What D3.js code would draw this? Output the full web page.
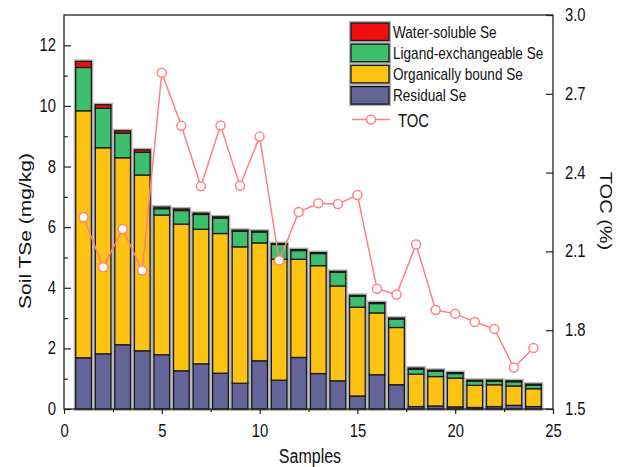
<!DOCTYPE html>
<html>
<head>
<meta charset="utf-8">
<script src="https://cdn.jsdelivr.net/npm/d3@7/dist/d3.min.js"></script>
<style>
  body { margin: 0; background: #fff; }
  text { font-family: "Liberation Sans", Arial, sans-serif; fill: #111; }
</style>
</head>
<body>
<div id="chart"></div>
<script>
// data
const samples = d3.range(1, 25);
const residual = [1.69,1.82,2.12,1.92,1.79,1.26,1.49,1.18,0.85,1.59,0.95,1.70,1.17,0.93,0.43,1.13,0.80,0.08,0.10,0.07,0.05,0.08,0.12,0.08];
const organic  = [8.15,6.80,6.17,5.80,4.61,4.84,4.44,4.61,4.50,3.89,3.99,3.24,3.56,3.13,2.93,2.04,1.89,1.07,0.97,0.95,0.73,0.72,0.64,0.59];
const ligand   = [1.43,1.30,0.81,0.75,0.21,0.45,0.49,0.51,0.52,0.36,0.49,0.29,0.40,0.45,0.36,0.31,0.28,0.16,0.18,0.15,0.14,0.12,0.14,0.12];
const water    = [0.20,0.12,0.08,0.08,0.05,0.05,0.04,0.04,0.03,0.03,0.03,0.03,0.03,0.03,0.03,0.03,0.03,0.04,0.03,0.03,0.03,0.03,0.03,0.03];
const toc      = [2.23,2.04,2.185,2.027,2.78,2.578,2.348,2.579,2.35,2.537,2.065,2.25,2.283,2.28,2.315,1.958,1.936,2.126,1.877,1.863,1.831,1.805,1.658,1.732];

const keys = ["residual","organic","ligand","water"];
const labels = {water:"Water-soluble Se", ligand:"Ligand-exchangeable Se", organic:"Organically bound Se", residual:"Residual Se"};
const colors = {water:"#ee1010", ligand:"#3dbf6e", organic:"#fdc312", residual:"#646499"};

const xTicks = [0,5,10,15,20,25];
const xMinor = [2.5,7.5,12.5,17.5,22.5];
const yTicks = [0,2,4,6,8,10,12];
const yMinor = [1,3,5,7,9,11];
const rTicks = [1.5,1.8,2.1,2.4,2.7,3.0];

const rows = samples.map((s, i) => ({sample: s, residual: residual[i], organic: organic[i], ligand: ligand[i], water: water[i], toc: toc[i]}));

const svgWidth = 619, svgHeight = 467;
const margin = {top: 15, left: 64, bottom: 58, right: 66};
const width = svgWidth - margin.left - margin.right;
const height = svgHeight - margin.top - margin.bottom;

const svg = d3.select("#chart").append("svg")
  .attr("width", svgWidth)
  .attr("height", svgHeight)
  .append("g")
  .attr("transform", "translate(" + margin.left + "," + margin.top + ")");

const x = d3.scaleLinear().domain([0, 25]).range([0, width]);
const y = d3.scaleLinear().domain([0, 13]).range([height, 0]);
const yR = d3.scaleLinear().domain([1.5, 3.0]).range([height, 0]);

const stacked = d3.stack().keys(keys)(rows);
const bw = x(0.8) - x(0);

// grey halo round each bar
svg.append("g").selectAll("rect")
  .data(rows)
  .enter().append("rect")
  .attr("x", d => x(d.sample) - bw / 2)
  .attr("y", d => y(d.residual + d.organic + d.ligand + d.water))
  .attr("width", bw)
  .attr("height", d => y(0) - y(d.residual + d.organic + d.ligand + d.water))
  .attr("fill", "none")
  .attr("stroke", "#b4b4b4")
  .attr("stroke-width", 4);

svg.append("g").selectAll("g")
  .data(stacked)
  .enter().append("g")
  .attr("fill", d => colors[d.key])
  .selectAll("rect")
  .data(d => d)
  .enter().append("rect")
  .attr("x", d => x(d.data.sample) - bw / 2)
  .attr("y", d => y(d[1]))
  .attr("width", bw)
  .attr("height", d => y(d[0]) - y(d[1]))
  .attr("stroke", "#1a1a1a")
  .attr("stroke-width", 1.3);

// TOC line
const line = d3.line().x(d => x(d.sample)).y(d => yR(d.toc));
svg.append("path")
  .datum(rows)
  .attr("d", line)
  .attr("fill", "none")
  .attr("stroke", "#ff8080")
  .attr("stroke-width", 1.5);

svg.append("g").selectAll("circle")
  .data(rows)
  .enter().append("circle")
  .attr("cx", d => x(d.sample))
  .attr("cy", d => yR(d.toc))
  .attr("r", 4.5)
  .attr("fill", "#fff")
  .attr("stroke", "#ff8585")
  .attr("stroke-width", 1.5);

// axes
const tickFont = 19, sx = 0.78;

const xAxis = svg.append("g")
  .attr("transform", "translate(0," + height + ")")
  .call(d3.axisBottom(x).tickValues(xTicks).tickSize(5).tickSizeOuter(0).tickFormat(d3.format("d")));
xAxis.selectAll("text")
  .attr("y", 0).attr("dy", 0)
  .attr("transform", "translate(0,28) scale(" + sx + ",1)");
svg.append("g")
  .attr("transform", "translate(0," + height + ")")
  .call(d3.axisBottom(x).tickValues(xMinor).tickSize(3).tickSizeOuter(0).tickFormat(""));

const yAxis = svg.append("g")
  .call(d3.axisLeft(y).tickValues(yTicks).tickSizeInner(-7).tickSizeOuter(0));
yAxis.selectAll("text")
  .attr("x", 0).attr("dy", 0)
  .attr("transform", "translate(-8,5.5) scale(" + sx + ",1)");
svg.append("g")
  .call(d3.axisLeft(y).tickValues(yMinor).tickSizeInner(-4).tickSizeOuter(0).tickFormat(""));

const rAxis = svg.append("g")
  .attr("transform", "translate(" + width + ",0)")
  .call(d3.axisRight(yR).tickValues(rTicks).tickSizeInner(-7).tickSizeOuter(0).tickFormat(d3.format(".1f")));
rAxis.selectAll("text")
  .attr("x", 0).attr("dy", 0)
  .attr("transform", "translate(12,5.5) scale(" + sx + ",1)");

svg.selectAll(".domain").remove();
svg.selectAll(".tick line").attr("stroke", "#222").attr("stroke-width", 1.2);
svg.selectAll(".tick text")
  .style("font-family", "'Liberation Sans', Arial, sans-serif")
  .style("font-size", tickFont + "px")
  .attr("fill", "#111");

svg.append("rect")
  .attr("width", width)
  .attr("height", height)
  .attr("fill", "none")
  .attr("stroke", "#222")
  .attr("stroke-width", 1.3);

// axis titles
svg.append("text")
  .attr("transform", "translate(" + (310 - margin.left) + "," + (463 - margin.top) + ") scale(0.8,1)")
  .attr("text-anchor", "middle")
  .style("font-size", "20px")
  .text("Samples");

svg.append("text")
  .attr("transform", "translate(" + (31 - margin.left) + "," + (231 - margin.top) + ") rotate(-90) scale(1,0.8)")
  .attr("text-anchor", "middle")
  .style("font-size", "21px")
  .text("Soil TSe (mg/kg)");

svg.append("text")
  .attr("transform", "translate(" + (600 - margin.left) + "," + (211 - margin.top) + ") rotate(90) scale(1,0.8)")
  .attr("text-anchor", "middle")
  .style("font-size", "20px")
  .text("TOC (%)");

// legend
const legendKeys = ["water","ligand","organic","residual"];
const legend = svg.append("g")
  .attr("transform", "translate(" + (351 - margin.left) + "," + (23 - margin.top) + ")");

legend.selectAll("rect.halo")
  .data(legendKeys)
  .enter().append("rect")
  .attr("class", "halo")
  .attr("x", 0)
  .attr("y", (d, i) => i * 21.2)
  .attr("width", 38)
  .attr("height", 17.5)
  .attr("fill", "none")
  .attr("stroke", "#b4b4b4")
  .attr("stroke-width", 4);

legend.selectAll("rect.sw")
  .data(legendKeys)
  .enter().append("rect")
  .attr("class", "sw")
  .attr("x", 0)
  .attr("y", (d, i) => i * 21.2)
  .attr("width", 38)
  .attr("height", 17.5)
  .attr("fill", d => colors[d])
  .attr("stroke", "#1a1a1a")
  .attr("stroke-width", 1.3);

legend.selectAll("text.lab")
  .data(legendKeys)
  .enter().append("text")
  .attr("class", "lab")
  .attr("transform", (d, i) => "translate(42," + (i * 21.2 + 14.5) + ") scale(0.85,1)")
  .style("font-size", "16px")
  .text(d => labels[d]);

legend.append("line")
  .attr("x1", 1).attr("x2", 39)
  .attr("y1", 96.5).attr("y2", 96.5)
  .attr("stroke", "#ff8080")
  .attr("stroke-width", 1.5);
legend.append("circle")
  .attr("cx", 20).attr("cy", 96.5).attr("r", 4.5)
  .attr("fill", "#fff")
  .attr("stroke", "#ff8585")
  .attr("stroke-width", 1.5);
legend.append("text")
  .attr("transform", "translate(47,103.5) scale(0.8,1)")
  .style("font-size", "18.5px")
  .text("TOC");
</script>
</body>
</html>
